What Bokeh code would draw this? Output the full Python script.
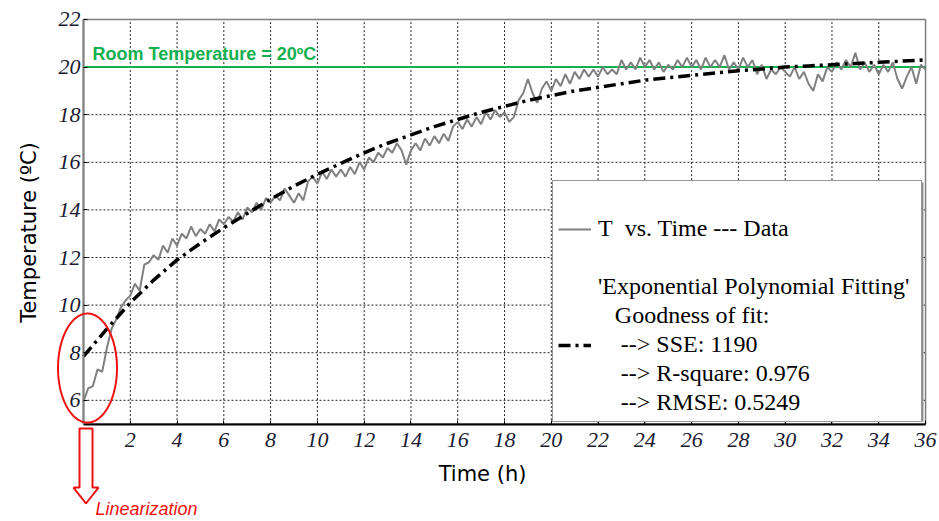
import numpy as np
from bokeh.plotting import figure
from bokeh.models import (Range1d, FixedTicker, Label, Legend, LegendItem,
                          PolyAnnotation, BoxAnnotation)
from bokeh.embed import file_html
from bokeh.resources import INLINE

# ---------------- data ----------------
temp_data = [
    5.95, 6.5, 6.6, 7.3, 7.2, 8.2, 9.0, 9.4, 9.9, 10.2,
    10.4, 10.9, 10.6, 11.7, 11.8, 12.1, 11.9, 12.5, 12.2, 12.8,
    12.5, 13.0, 12.8, 13.3, 12.9, 13.2, 13.0, 13.4, 13.1, 13.6, 13.4,
    13.7, 13.5, 13.9, 13.6, 14.1, 13.9, 14.3, 14.0, 14.5, 14.3,
    14.6, 14.4, 14.9, 14.6, 14.3, 14.7, 14.4, 15.2, 15.4, 15.1,
    15.6, 15.3, 15.7, 15.4, 15.7, 15.4, 15.8, 15.5, 16.0, 15.7,
    16.2, 16.0, 16.4, 16.2, 16.6, 16.4, 16.8, 16.5, 15.9, 16.5,
    16.8, 16.5, 17.0, 16.7, 17.1, 16.8, 17.2, 16.9, 17.5, 17.7,
    17.4, 17.8, 17.5, 17.9, 17.6, 18.1, 17.8, 18.2, 17.9, 18.1,
    17.7, 17.9, 18.6, 18.9, 19.5, 18.9, 18.5, 19.1, 19.4, 19.0,
    19.5, 19.2, 19.7, 19.3, 19.8, 19.5, 19.9, 19.6, 19.9, 19.6,
    20.0, 19.7, 19.9, 19.7, 20.3, 19.9, 20.2, 19.9, 20.4, 20.0,
    20.3, 19.9, 20.2, 19.8, 20.1, 19.9, 20.3, 20.0, 20.4, 20.0,
    20.3, 19.9, 20.4, 20.0, 20.3, 20.0, 20.5, 19.9, 20.2, 19.9,
    20.4, 20.0, 20.3, 19.7, 20.1, 19.5, 19.9, 19.7, 20.0, 19.8,
    19.6, 20.0, 19.5, 19.8, 19.3, 19.0, 19.7, 19.4, 20.0, 19.8,
    20.2, 19.9, 20.3, 20.0, 20.6, 19.9, 20.2, 19.8, 20.1, 19.7,
    20.1, 19.8, 20.2, 19.5, 19.1, 19.6, 20.0, 19.3, 20.1, 19.9,
]
time_h = list(np.round(np.arange(len(temp_data)) * 0.2, 1))

fit_time = list(range(0, 37))
fit_temp = [7.85, 9.0, 10.1, 11.05, 11.9, 12.6, 13.25, 13.85, 14.45, 15.0,
            15.5, 15.95, 16.4, 16.8, 17.15, 17.5, 17.8, 18.1, 18.35, 18.6,
            18.8, 19.0, 19.15, 19.3, 19.45, 19.55, 19.65, 19.75, 19.85, 19.92,
            20.0, 20.05, 20.1, 20.15, 20.2, 20.25, 20.3]

room_temp = 20
x_min, x_max = 0, 36
y_min, y_max = 5, 22
x_ticks = list(range(2, 37, 2))
y_ticks = list(range(6, 23, 2))

label_room = "Room Temperature = 20ºC"
label_xtitle = "Time (h)"
label_ytitle = "Temperature (ºC)"
legend_lines = [
    "\u00a0",
    "T\u00a0\u00a0vs. Time --- Data",
    "\u00a0",
    "'Exponential Polynomial Fitting'",
    "\u00a0\u00a0\u2009Goodness of fit:",
    "\u00a0\u00a0\u00a0\u2009--> SSE: 1190",
    "\u00a0\u00a0\u00a0\u2009--> R-square: 0.976",
    "\u00a0\u00a0\u00a0\u2009--> RMSE: 0.5249",
]
label_lin = "Linearization"

# ---------------- figure ----------------
# the frame covers the whole canvas; the axes are pinned at x=0 / y=5
p = figure(width=939, height=521, output_backend="svg", toolbar_location=None,
           x_range=Range1d(-3.5485, 36.597), y_range=Range1d(0.908, 22.798),
           min_border=0)
p.background_fill_color = "white"
p.border_fill_color = "white"
p.outline_line_color = None
p.xgrid.visible = False
p.ygrid.visible = False

for ax in (p.xaxis[0], p.yaxis[0]):
    ax.major_label_text_font = "Liberation Serif"
    ax.major_label_text_font_style = "italic"
    ax.major_label_text_font_size = "22px"
    ax.major_label_text_color = "#1a1a33"
    ax.major_tick_in = 4
    ax.major_tick_out = 0
    ax.major_tick_line_color = "black"
    ax.minor_tick_line_color = None

p.xaxis.ticker = FixedTicker(ticks=x_ticks)
p.yaxis.ticker = FixedTicker(ticks=y_ticks)
p.xaxis.fixed_location = y_min
p.yaxis.fixed_location = x_min
p.xaxis.bounds = (x_min, x_max)
p.yaxis.bounds = (y_min, y_max)
p.xaxis.major_label_standoff = 9
p.yaxis.major_label_standoff = 3
p.xaxis.axis_line_color = "black"
p.xaxis.axis_line_width = 2
p.yaxis.axis_line_color = "#7f7f7f"
p.yaxis.axis_line_width = 2

# dotted grid inside the axes box only
p.segment(x0=x_ticks, y0=[y_min] * len(x_ticks), x1=x_ticks, y1=[y_max] * len(x_ticks),
          line_color="#222222", line_dash="2 2", line_width=1, level="underlay")
p.segment(x0=[x_min] * len(y_ticks), y0=y_ticks, x1=[x_max] * len(y_ticks), y1=y_ticks,
          line_color="#222222", line_dash="2 2", line_width=1, level="underlay")

# box outline (top / right)
p.add_layout(BoxAnnotation(left=x_min, right=x_max, bottom=y_min, top=y_max,
                           fill_alpha=0, line_color="#7f7f7f", line_alpha=1,
                           line_width=1.5, level="underlay"))

# axis titles
p.add_layout(Label(x=17.06, y=2.92, text=label_xtitle, text_font="DejaVu Sans",
                   text_font_size="21px", text_color="black",
                   text_align="center", text_baseline="middle"))
p.add_layout(Label(x=-2.35, y=13.05, text=label_ytitle, text_font="DejaVu Sans",
                   text_font_size="21px", text_color="black", angle=np.pi / 2,
                   text_align="center", text_baseline="middle"))

# room temperature line + label
p.segment(x0=[x_min], y0=[room_temp], x1=[x_max], y1=[room_temp],
          line_color="#12b04f", line_width=2)
p.add_layout(Label(x=0.385, y=20.55, text=label_room,
                   text_font="Liberation Sans", text_font_style="bold",
                   text_font_size="18px", text_color="#12b04f",
                   text_baseline="middle"))

# data and fit
r_data = p.line(time_h, temp_data, line_color="#808080", line_width=2)
r_fit = p.line(fit_time, fit_temp, line_color="black", line_width=3.5,
               line_dash="12 5 3 5")
r_blank = p.line([], [], line_alpha=0)

# legend shadow + legend
p.add_layout(BoxAnnotation(left=20.18, right=35.91, bottom=5.109, top=15.15,
                           fill_color="#8a8a8a", fill_alpha=1, line_alpha=0))
renderers_for_lines = [r_blank, r_data, r_blank, r_blank, r_blank, r_fit, r_blank, r_blank]
legend = Legend(items=[LegendItem(label=t, renderers=[r])
                       for t, r in zip(legend_lines, renderers_for_lines)],
                location=(552, 99), margin=0, padding=5, spacing=2,
                glyph_width=33, glyph_height=10, label_standoff=7, label_width=318,
                label_text_font="Liberation Serif", label_text_font_size="24px",
                label_text_color="black",
                border_line_color="#333333", border_line_width=1,
                background_fill_color="white", background_fill_alpha=1.0)
p.add_layout(legend)

# red ellipse round the start
ang = np.linspace(0, 2 * np.pi, 120)
p.add_layout(PolyAnnotation(xs=list(0.171 + 1.261 * np.cos(ang)),
                            ys=list(7.357 + 2.29 * np.sin(ang)),
                            fill_alpha=0, line_color="#ee1111", line_alpha=1,
                            line_width=2))

# hollow red arrow pointing down
arrow_x = [-0.171, 0.385, 0.385, 0.641, 0.107, -0.4275, -0.171]
arrow_y = [4.815, 4.815, 2.336, 2.336, 1.664, 2.336, 2.336]
p.add_layout(PolyAnnotation(xs=arrow_x, ys=arrow_y, fill_color="white", fill_alpha=1,
                            line_color="#ee1111", line_alpha=1, line_width=2))
p.add_layout(Label(x=0.513, y=1.43, text=label_lin, text_font="Liberation Sans",
                   text_font_style="italic", text_font_size="18px",
                   text_color="#ee1111", text_baseline="middle"))

open("out.html", "w").write(file_html(p, INLINE))
